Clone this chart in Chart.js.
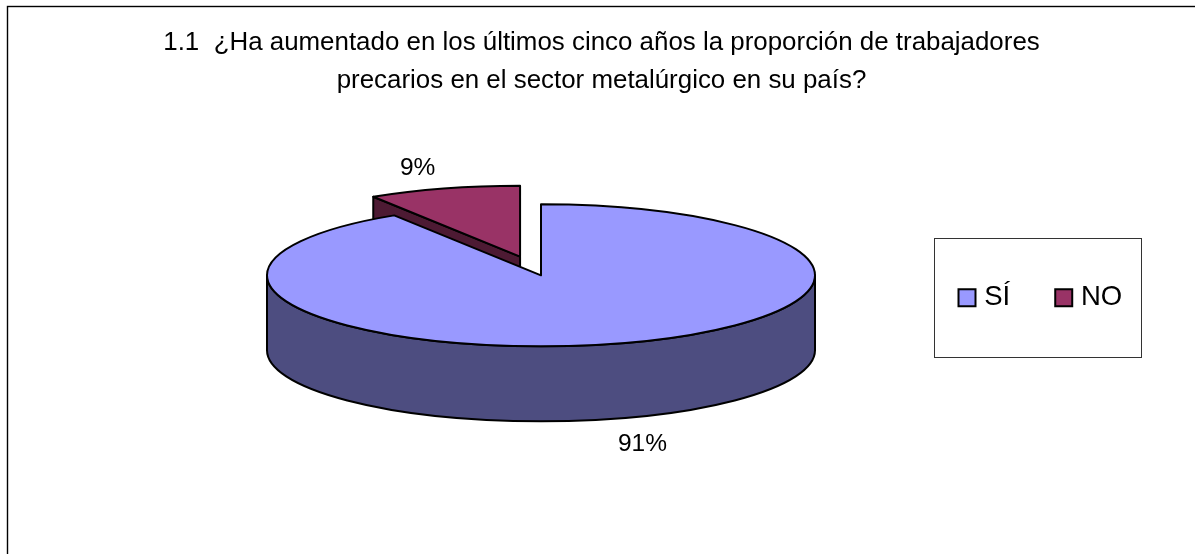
<!DOCTYPE html>
<html>
<head>
<meta charset="utf-8">
<script src="https://cdn.jsdelivr.net/npm/chart.js"></script>
<style>
  html, body { margin: 0; padding: 0; background: #fff; overflow: hidden; }
  canvas { display: block; }
</style>
</head>
<body>
<canvas id="pieChart" width="1195" height="554"></canvas>
<script>
// data
const categories = ["SÍ", "NO"];
const shares = [91, 9];
const titleLines = [
    "1.1  ¿Ha aumentado en los últimos cinco años la proporción de trabajadores",
    "precarios en el sector metalúrgico en su país?"
];

const topColors = ["#9999FF", "#993366"];
const wallColors = ["#4D4D80", "#4D1A33"];
const fontName = "'Liberation Sans', Arial, sans-serif";

const RADIUS = 274;
const SQUASH = 71 / 274;  // flattening of the pie, height over width
const DEPTH = 75;         // thickness of the 3d wall
const EXPLODE = [0, 75];  // how far each slice is pulled out

// screen position of an arc's own centre, with the flattening applied
function arcCentre(el, meta) {
    const pivotY = meta.controller.chart.chartArea.top + (meta.controller.chart.chartArea.height / 2);
    return { x: el.x, y: pivotY + (el.y - pivotY) * SQUASH };
}

function drawWall(ctx, el, meta, color) {
    const c = arcCentre(el, meta);
    const ry = el.outerRadius * SQUASH;
    ctx.fillStyle = color;
    ctx.strokeStyle = "#000";
    ctx.lineWidth = 2;
    ctx.lineJoin = "round";

    // rim, only the part on the front half
    const from = Math.max(el.startAngle, 0);
    const to = Math.min(el.endAngle, Math.PI);
    if (to > from) {
        ctx.beginPath();
        ctx.ellipse(c.x, c.y, el.outerRadius, ry, 0, from, to);
        ctx.ellipse(c.x, c.y + DEPTH, el.outerRadius, ry, 0, to, from, true);
        ctx.closePath();
        ctx.fill();
        ctx.stroke();
    }

    // cut faces that look towards the viewer
    [[el.startAngle, -1], [el.endAngle, 1]].forEach(([angle, side]) => {
        if (side * Math.cos(angle) <= 1e-6) return;
        const rimX = c.x + el.outerRadius * Math.cos(angle);
        const rimY = c.y + ry * Math.sin(angle);
        ctx.beginPath();
        ctx.moveTo(c.x, c.y);
        ctx.lineTo(rimX, rimY);
        ctx.lineTo(rimX, rimY + DEPTH);
        ctx.lineTo(c.x, c.y + DEPTH);
        ctx.closePath();
        ctx.fill();
        ctx.stroke();
    });
}

const pie3d = {
    id: "pie3d",
    beforeDraw(chart) {
        const ctx = chart.ctx;
        ctx.save();
        ctx.fillStyle = "#fff";
        ctx.fillRect(0, 0, chart.width, chart.height);
        // outer frame, runs off the right and the bottom of the picture
        ctx.strokeStyle = "#000";
        ctx.lineWidth = 1.4;
        ctx.strokeRect(7.5, 6.5, chart.width + 20, chart.height + 20);
        // legend frame
        ctx.strokeStyle = "#333";
        ctx.lineWidth = 1;
        ctx.strokeRect(934.5, 238.5, 207, 119);
        ctx.restore();
    },
    afterLayout(chart) {
        // the legend sits in its own box on the right
        const legend = chart.legend;
        const h = legend.height;
        legend.left = 913.5;
        legend.right = chart.width;
        legend.width = legend.right - legend.left;
        legend.top = 234;
        legend.bottom = legend.top + h;
        // the title is centred on the whole frame, not on the pie
        chart.titleBlock.left = 8;
        chart.titleBlock.right = 1195;
        chart.titleBlock.width = 1187;
    },
    afterDatasetsUpdate(chart) {
        const meta = chart.getDatasetMeta(0);
        meta.data.forEach((el, i) => {
            const mid = (el.startAngle + el.endAngle) / 2;
            el.x += Math.cos(mid) * EXPLODE[i];
            el.y += Math.sin(mid) * EXPLODE[i];
        });
    },
    beforeDatasetsDraw(chart) {
        const ctx = chart.ctx;
        const meta = chart.getDatasetMeta(0);
        ctx.save();
        for (let i = meta.data.length - 1; i >= 0; i--) {
            drawWall(ctx, meta.data[i], meta, wallColors[i]);
        }
        ctx.restore();
    },
    beforeDatasetDraw(chart) {
        // flatten the circle the library draws
        const area = chart.chartArea;
        const pivotY = area.top + area.height / 2;
        chart.ctx.save();
        chart.ctx.translate(0, pivotY);
        chart.ctx.scale(1, SQUASH);
        chart.ctx.translate(0, -pivotY);
    },
    afterDatasetDraw(chart) {
        const ctx = chart.ctx;
        ctx.restore();
        const meta = chart.getDatasetMeta(0);
        ctx.save();
        ctx.strokeStyle = "#000";
        ctx.lineWidth = 2;
        ctx.lineJoin = "round";
        meta.data.forEach((el) => {
            const c = arcCentre(el, meta);
            ctx.beginPath();
            ctx.moveTo(c.x, c.y);
            ctx.ellipse(c.x, c.y, el.outerRadius, el.outerRadius * SQUASH, 0, el.startAngle, el.endAngle);
            ctx.closePath();
            ctx.stroke();
        });
        ctx.restore();
    },
    afterDraw(chart) {
        // percentage labels outside the rim
        const ctx = chart.ctx;
        const meta = chart.getDatasetMeta(0);
        ctx.save();
        ctx.fillStyle = "#000";
        ctx.font = "24.5px " + fontName;
        ctx.textAlign = "center";
        ctx.textBaseline = "middle";
        meta.data.forEach((el, i) => {
            const c = arcCentre(el, meta);
            const mid = (el.startAngle + el.endAngle) / 2;
            const front = Math.sin(mid) > 0;
            const x = c.x + el.outerRadius * Math.cos(mid) + Math.sign(Math.cos(mid)) * 25;
            const y = c.y + el.outerRadius * SQUASH * Math.sin(mid) + (front ? DEPTH + 26 : -20);
            ctx.fillText(shares[i] + "%", x - (front ? 0 : 1), y);
        });
        ctx.restore();
    }
};

const ctx = document.getElementById("pieChart").getContext("2d");

new Chart(ctx, {
    type: "pie",
    data: {
        labels: categories,
        datasets: [{
            data: shares,
            backgroundColor: topColors,
            borderWidth: 0,
            clip: false
        }]
    },
    options: {
        responsive: false,
        animation: false,
        events: [],
        radius: RADIUS,
        layout: {
            padding: { left: 0, right: 113, top: 0, bottom: 191 }
        },
        plugins: {
            tooltip: { enabled: false },
            title: {
                display: true,
                text: titleLines,
                color: "#000",
                font: { family: fontName, size: 25.9, weight: "normal", lineHeight: 1.47 },
                padding: { top: 24, bottom: 0 },
                fullSize: true
            },
            legend: {
                position: "top",
                align: "start",
                labels: {
                    color: "#000",
                    font: { family: fontName, size: 27.5 },
                    usePointStyle: true,
                    pointStyle: "rect",
                    boxWidth: 7,
                    boxHeight: 17,
                    padding: 50,
                    generateLabels(chart) {
                        const items = Chart.overrides.doughnut.plugins.legend.labels.generateLabels(chart);
                        items.forEach((item) => {
                            item.pointStyle = "rect";
                            item.strokeStyle = "#000";
                            item.lineWidth = 2;
                        });
                        return items;
                    }
                }
            }
        }
    },
    plugins: [pie3d]
});
</script>
</body>
</html>
